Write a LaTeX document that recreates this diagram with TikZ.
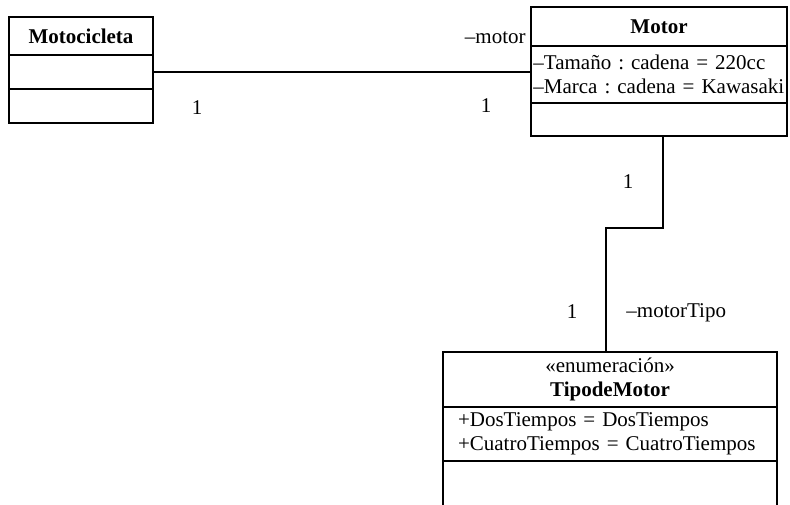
\documentclass[tikz,border=0pt]{standalone}
\usepackage{fontspec}
\setmainfont{Liberation Serif}
\usetikzlibrary{positioning}

\begin{document}
\frenchspacing
\begin{tikzpicture}[x=0.5pt,y=-0.5pt,node distance=0pt,
  font=\fontsize{10.5}{12}\selectfont,
  cls/.style={draw,line width=0.6pt,inner sep=0pt,outer sep=0pt,
              minimum width=#1,align=center},
  attr/.style={draw,line width=0.6pt,inner ysep=0pt,outer sep=0pt,
               inner xsep=#1,align=left},
  assoc/.style={line width=0.6pt},
  mult/.style={inner sep=0pt}]
  \clip (0,0) rectangle (790,504);
  % Motocicleta
  \node[cls=72pt,minimum height=19pt,font=\fontsize{10.5}{12}\selectfont\bfseries] (moto) at (81,36) {Motocicleta};
  \node[cls=72pt,minimum height=17pt,below=of moto] (moto1) {};
  \node[cls=72pt,minimum height=17pt,below=of moto1] (moto2) {};
  % Motor
  \node[cls=128pt,minimum height=19.5pt,font=\fontsize{10.5}{12}\selectfont\bfseries] (motor) at (659,26.5) {Motor};
  \node[attr=1.2pt,text width=125.6pt,minimum height=28.5pt,below=of motor] (motor1)
    {–Tamaño : cadena = 220cc\\–Marca : cadena = Kawasaki};
  \node[cls=128pt,minimum height=16.5pt,below=of motor1] (motor2) {};
  % TipodeMotor
  \node[cls=167pt,minimum height=27.5pt] (tipo) at (610,379.5)
    {«enumeración»\\\textbf{TipodeMotor}};
  \node[attr=7.5pt,text width=152pt,minimum height=27pt,below=of tipo] (tipo1)
    {+DosTiempos = DosTiempos\\+CuatroTiempos = CuatroTiempos};
  \node[cls=167pt,minimum height=30pt,below=of tipo1] (tipo2) {};
  % asociaciones
  \draw[assoc] (moto1.east) -- (moto1.east -| motor1.west);
  \coordinate (salida) at ([xshift=2pt]motor2.south);
  \coordinate (llegada) at ([xshift=-2pt]tipo.north);
  \coordinate (codo) at (llegada |- 0,228);
  \draw[assoc] (salida) |- (codo) -- (llegada);
  \node[mult,anchor=east] (rolmotor) at (526,38) {–motor};
  \node[mult] (m1) at (197,108) {1};
  \node[mult] (m2) at (486,106) {1};
  \node[mult] (m3) at (628,182) {1};
  \node[mult] (m4) at (572,312) {1};
  \node[mult,anchor=west] (roltipo) at (626,313) {–motorTipo};
\end{tikzpicture}
\end{document}
